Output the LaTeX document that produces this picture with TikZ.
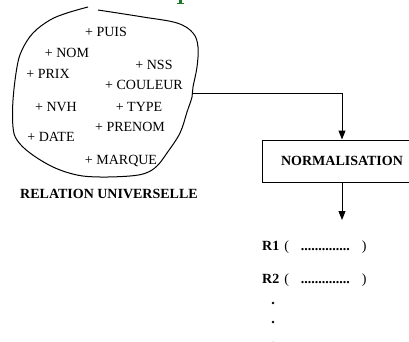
\documentclass[tikz,border=0pt]{standalone}
\usepackage{fontspec}
\setmainfont{Liberation Serif}
\usepackage{tikz}
\usetikzlibrary{arrows.meta,positioning}
\definecolor{rugreen}{RGB}{30,120,40}
\tikzset{
  attr/.style={font=\fontsize{14}{16}\selectfont, inner sep=0pt},
  flowarrow/.style={line width=1pt, -{Triangle[length=9pt,width=7pt]}}
}

\begin{document}
\begin{tikzpicture}[x=1pt,y=-1pt]
\useasboundingbox (0,0) rectangle (409,342);
\clip (0,0) rectangle (409,342);
% foot of the cut-off green title letter
\fill[rugreen] (179,0) rectangle (181.5,3.2);
\fill[rugreen] (177,3) rectangle (183.5,4.2);
% Universal relation blob
\draw[line width=1pt] plot[smooth, tension=0.6] coordinates {
  (98,10) (143,17) (177,23) (193,33) (198,47) (197,67) (193,87) (192,97)
  (187,112) (180,133) (167,153) (157,166) (146,173) (130,176) (100,177)
  (77,175) (53,167) (30,153) (17,140) (13,127) (13,100) (17,67) (22,50)
  (33,33) (50,20) (67,13) (88,7)};
% attributes
\node[attr] (puis) at (106,32) {+ PUIS};
\node[attr] (nom) at (67,53) {+ NOM};
\node[attr] (prix) at (48,74) {+ PRIX};
\node[attr] (nss) at (154,65) {+ NSS};
\node[attr] (couleur) at (144,85) {+ COULEUR};
\node[attr] (nvh) at (56,107) {+ NVH};
\node[attr] (type) at (139,107) {+ TYPE};
\node[attr] (prenom) at (130,127) {+ PRENOM};
\node[attr] (date) at (51,137) {+ DATE};
\node[attr] (marque) at (121,161) {+ MARQUE};
\node[attr, font=\fontsize{14}{16}\selectfont\bfseries] (univ) at (109,194) {RELATION UNIVERSELLE};
% Normalisation box
\node[draw, line width=1pt, minimum width=160pt, minimum height=42pt,
      font=\fontsize{14}{16}\selectfont\bfseries] (norm) at (342,161) {NORMALISATION\hspace{4pt}};
\coordinate (blobexit) at (192,94);
\coordinate (outend) at (342,220);
\draw[flowarrow] (blobexit) -| (norm.north);
\draw[flowarrow] (norm.south) -- (outend);
% resulting relations
\node[attr, anchor=west] (r1) at (262,247) {\textbf{R1}\hspace{5pt}(\hspace{12pt}\textbf{..............}\hspace{12pt})};
\node[attr, anchor=west] (r2) at (262,280) {\textbf{R2}\hspace{5pt}(\hspace{12pt}\textbf{..............}\hspace{12pt})};
\foreach \y in {303,322,343} {
  \fill (273,\y) circle (1.4);
}
\end{tikzpicture}
\end{document}
